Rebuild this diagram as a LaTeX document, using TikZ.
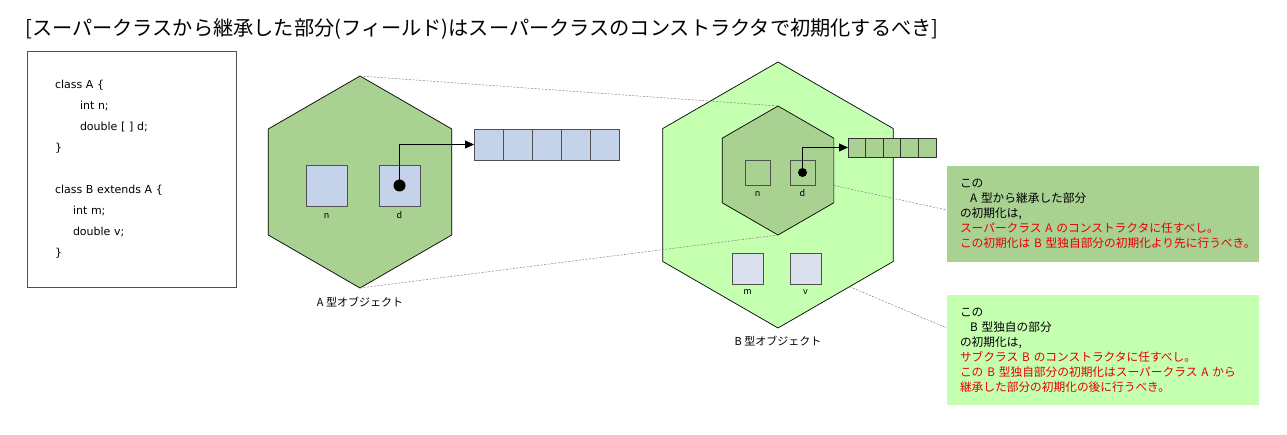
\documentclass[tikz,border=0pt]{standalone}
\usepackage{fontspec}
\setmainfont{Noto Sans CJK JP}
\newfontfamily\codefont{DejaVu Sans}
\usetikzlibrary{arrows.meta, positioning, shapes.geometric}
\definecolor{hexdark}{RGB}{168,209,146}
\definecolor{hexlight}{RGB}{197,255,176}
\definecolor{cellblue}{RGB}{197,211,234}
\definecolor{cellgray}{RGB}{218,224,236}
\definecolor{edgegray}{RGB}{80,80,80}
\definecolor{notered}{RGB}{230,0,0}

\begin{document}
\begin{tikzpicture}[x=1pt, y=-1pt, >={Triangle[length=9pt, width=8pt]},
        hexbox/.style={draw, regular polygon, regular polygon sides=6, shape border rotate=90, inner sep=0pt, outer sep=0pt, line width=0.7pt},
        field/.style={draw=edgegray, rectangle, inner sep=0pt, outer sep=0pt, line width=0.7pt},
        cellA/.style={draw=edgegray, fill=cellblue, minimum width=29pt, minimum height=31pt, inner sep=0pt, outer sep=0pt, line width=0.8pt},
        cellB/.style={draw=black!80, fill=hexdark, minimum width=17.6pt, minimum height=19pt, inner sep=0pt, outer sep=0pt, line width=0.8pt},
        lbl/.style={font=\fontsize{9}{9}\selectfont, inner sep=0pt, text height=7pt, text depth=2pt},
        objlbl/.style={font=\fontsize{11}{11}\selectfont, inner sep=0pt},
        note/.style={rectangle, minimum width=312pt, text width=296pt, inner xsep=8pt, align=left, font=\fontsize{11.7}{15}\selectfont},
        link/.style={draw=gray, dash pattern=on 2pt off 1.5pt, line width=0.5pt}]

        \useasboundingbox (0,0) rectangle (1287,435);

        \node[font=\fontsize{20.2}{20}\selectfont, anchor=west, inner sep=0pt] (title) at (25,29) {[スーパークラスから継承した部分(フィールド)はスーパークラスのコンストラクタで初期化するべき]};

        % code of the two classes
        \node[draw=edgegray, line width=0.8pt, minimum width=209pt, minimum height=236pt, text width=153pt, inner xsep=28pt, align=left, font={\codefont\fontsize{11}{21}\selectfont}] (code) at (131.5,169) {class A \{\\ \hspace*{25pt}int n;\\ \hspace*{25pt}double [ ] d;\\ \}\\[21pt] class B extends A \{\\ \hspace*{18pt}int m;\\ \hspace*{18pt}double v;\\ \}};

        % A object
        \node[hexbox, fill=hexdark, minimum size=212pt] (hexA) at (360,182) {};
        \node[field, fill=cellblue, minimum size=41pt] (fieldAn) at (326.5,185.5) {};
        \node[field, fill=cellblue, minimum size=41pt] (fieldAd) at (399.5,185.5) {};
        \node[lbl, below=5.5pt of fieldAn] (labAn) {n};
        \node[lbl, below=5.5pt of fieldAd] (labAd) {d};
        \node[circle, fill=black, inner sep=0pt, minimum size=12pt] (dotA) at (fieldAd) {};
        \node[objlbl, below=9pt of hexA] (labA) {A 型オブジェクト};

        \node[cellA] (arrA1) at (488.5,144.5) {};
        \node[cellA, right=0pt of arrA1] (arrA2) {};
        \node[cellA, right=0pt of arrA2] (arrA3) {};
        \node[cellA, right=0pt of arrA3] (arrA4) {};
        \node[cellA, right=0pt of arrA4] (arrA5) {};
        \draw[->, line width=0.8pt] (dotA.center) |- (arrA1.west);

        % B object
        \node[hexbox, fill=hexlight, minimum size=266pt] (hexB) at (778,195) {};
        \node[hexbox, fill=hexdark, minimum size=129pt] (hexBi) at (778,170.5) {};
        \node[field, minimum size=25pt] (fieldBn) at (757.5,172.5) {};
        \node[field, minimum size=25pt] (fieldBd) at (802.5,172.5) {};
        \node[lbl, below=4.5pt of fieldBn] (labBn) {n};
        \node[lbl, below=4.5pt of fieldBd] (labBd) {d};
        \node[circle, fill=black, inner sep=0pt, minimum size=9pt] (dotB) at (fieldBd) {};
        \node[field, fill=cellgray, minimum size=31pt] (fieldBm) at (747.5,268.5) {};
        \node[field, fill=cellgray, minimum size=31pt] (fieldBv) at (805.5,268.5) {};
        \node[lbl, below=3.5pt of fieldBm] (labBm) {m};
        \node[lbl, below=3.5pt of fieldBv] (labBv) {v};
        \node[objlbl, below=7.5pt of hexB] (labB) {B 型オブジェクト};

        \node[cellB] (arrB1) at (856.8,147.5) {};
        \node[cellB, right=0pt of arrB1] (arrB2) {};
        \node[cellB, right=0pt of arrB2] (arrB3) {};
        \node[cellB, right=0pt of arrB3] (arrB4) {};
        \node[cellB, right=0pt of arrB4] (arrB5) {};
        \draw[->, line width=0.8pt] (dotB.center) |- (arrB1.west);

        % notes
        \node[note, fill=hexdark, minimum height=96pt] (noteA) at (1103,214) {\hspace*{5pt}この\\ \hspace*{15pt}A~型から継承した部分\\ \hspace*{5pt}の初期化は,\\ \hspace*{5pt}\textcolor{notered}{スーパークラス~A~のコンストラクタに任すべし。}\\ \hspace*{5pt}\textcolor{notered}{この初期化は~B~型独自部分の初期化より先に行うべき。}};
        \node[note, fill=hexlight, minimum height=110pt] (noteB) at (1103,350) {\hspace*{5pt}この\\ \hspace*{15pt}B~型独自の部分\\ \hspace*{5pt}の初期化は,\\ \hspace*{5pt}\textcolor{notered}{サブクラス~B~のコンストラクタに任すべし。}\\ \hspace*{5pt}\textcolor{notered}{この~B~型独自部分の初期化はスーパークラス~A~から}\\ \hspace*{5pt}\textcolor{notered}{継承した部分の初期化の後に行うべき。}};

        \draw[link] (hexA.north) -- (hexBi.north);
        \draw[link] (hexA.south) -- (hexBi.south);
        \draw[link] (hexBi.-15) -- ([yshift=4pt]noteA.west);
        \draw[link] (hexB.-52) -- ([yshift=22pt]noteB.west);
    \end{tikzpicture}
\end{document}
